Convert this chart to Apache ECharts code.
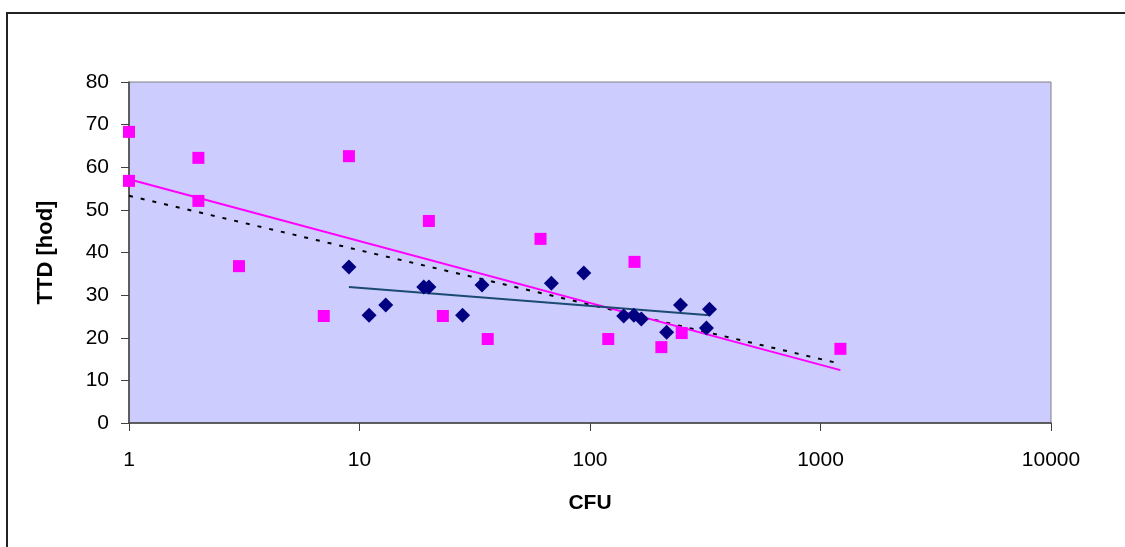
<!DOCTYPE html>
<html>
<head>
<meta charset="utf-8">
<script src="https://cdn.jsdelivr.net/npm/echarts@6/dist/echarts.min.js"></script>
<style>
  html, body { margin: 0; padding: 0; background: #fff; }
  #main { width: 1125px; height: 547px; }
</style>
</head>
<body>
<div id="main"></div>
<script type="text/javascript">
    // hodnoty
    var magentaX = [1, 1, 2, 2, 3, 7, 9, 20, 23, 36, 61, 120, 156, 204, 250, 1220];
    var magentaY = [68.3, 56.8, 62.2, 52.1, 36.8, 25.1, 62.6, 47.4, 25.1, 19.7, 43.2, 19.7, 37.8, 17.8, 21.1, 17.4];

    var navyX = [9, 11, 13, 19, 20, 28, 34, 68, 94, 140, 155, 167, 215, 247, 320, 330];
    var navyY = [36.6, 25.3, 27.7, 31.9, 31.9, 25.3, 32.4, 32.8, 35.2, 25.1, 25.3, 24.4, 21.3, 27.7, 22.3, 26.7];

    // trendy (koncove body)
    var magentaTrendX = [1, 1220];
    var magentaTrendY = [57.2, 12.4];
    var navyTrendX = [9, 330];
    var navyTrendY = [31.9, 25.3];
    var allTrendX = [1, 1200];
    var allTrendY = [53.3, 14.0];

    var xTicks = [1, 10, 100, 1000, 10000];
    var yTicks = [0, 10, 20, 30, 40, 50, 60, 70, 80];

    function pairs(xs, ys) {
        var out = [];
        for (var i = 0; i < xs.length; i++) {
            out.push([xs[i], ys[i]]);
        }
        return out;
    }

    var myChart = echarts.init(document.getElementById('main'));

    var option = {
        animation: false,
        textStyle: { fontFamily: 'Liberation Sans, Arial, sans-serif' },
        graphic: [
            {
                type: 'rect',
                shape: { x: 7, y: 13, width: 1130, height: 545 },
                style: { fill: 'none', stroke: '#222', lineWidth: 2 },
                silent: true
            }
        ],
        grid: {
            left: 129,
            top: 82,
            width: 922,
            height: 341,
            show: true,
            backgroundColor: '#CCCCFF',
            borderColor: '#808080',
            borderWidth: 1
        },
        xAxis: {
            type: 'log',
            logBase: 10,
            min: xTicks[0],
            max: xTicks[xTicks.length - 1],
            name: 'CFU',
            nameLocation: 'middle',
            nameGap: 70,
            nameTextStyle: { fontSize: 21, fontWeight: 'bold', color: '#000' },
            axisLine: { lineStyle: { color: '#404040', width: 1.5 } },
            axisTick: { length: 8, lineStyle: { color: '#404040' } },
            minorTick: { show: false },
            splitLine: { show: false },
            axisLabel: {
                margin: 27,
                fontSize: 21,
                color: '#000',
                formatter: function (v) { return String(Math.round(v)); }
            }
        },
        yAxis: {
            type: 'value',
            min: yTicks[0],
            max: yTicks[yTicks.length - 1],
            interval: 10,
            name: 'TTD [hod]',
            nameLocation: 'middle',
            nameGap: 72,
            nameTextStyle: { fontSize: 22, fontWeight: 'bold', color: '#000' },
            axisLine: { show: true, lineStyle: { color: '#404040', width: 1.5 } },
            axisTick: { show: true, length: 8, lineStyle: { color: '#404040' } },
            splitLine: { show: false },
            axisLabel: { margin: 20, fontSize: 21, color: '#000' }
        },
        series: [
            {
                name: 'trend all',
                type: 'line',
                data: pairs(allTrendX, allTrendY),
                symbol: 'none',
                lineStyle: { color: '#000', width: 2, type: [4, 8] },
                z: 2
            },
            {
                name: 'trend magenta',
                type: 'line',
                data: pairs(magentaTrendX, magentaTrendY),
                symbol: 'none',
                lineStyle: { color: '#FF00FF', width: 2 },
                z: 2
            },
            {
                name: 'trend navy',
                type: 'line',
                data: pairs(navyTrendX, navyTrendY),
                symbol: 'none',
                lineStyle: { color: '#1B4A72', width: 2 },
                z: 2
            },
            {
                name: 'magenta',
                type: 'scatter',
                data: pairs(magentaX, magentaY),
                symbol: 'rect',
                symbolSize: 12,
                itemStyle: { color: '#FF00FF', opacity: 1 },
                z: 3
            },
            {
                name: 'navy',
                type: 'scatter',
                data: pairs(navyX, navyY),
                symbol: 'diamond',
                symbolSize: [15, 15],
                itemStyle: { color: '#000080', opacity: 1 },
                z: 3
            }
        ]
    };
    myChart.setOption(option);
</script>
</body>
</html>
